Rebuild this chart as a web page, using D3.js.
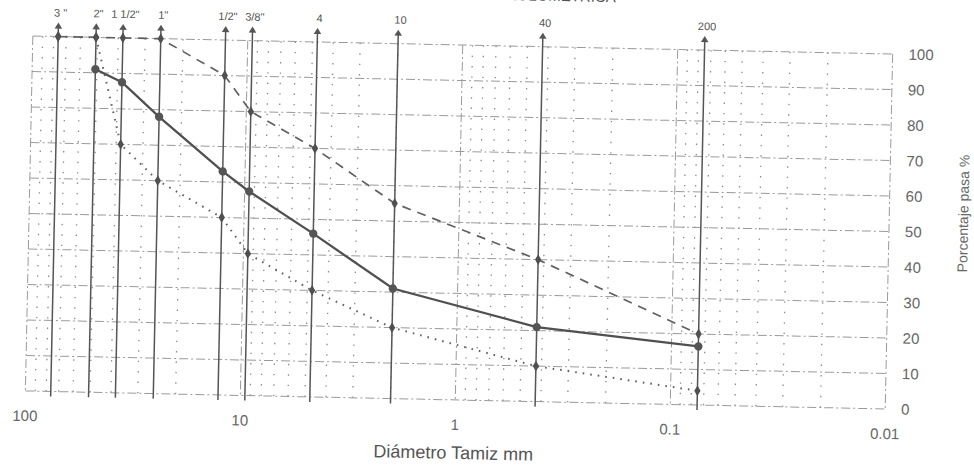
<!DOCTYPE html>
<html>
<head>
<meta charset="utf-8">
<script src="https://cdn.jsdelivr.net/npm/d3@7"></script>
<style>
  body { margin: 0; background: #fff; }
  svg { display: block; }
  text { font-family: "Liberation Sans", Arial, sans-serif; }
</style>
</head>
<body>
<svg id="chart" width="974" height="466"></svg>
<script>
// Sieve openings (mm) and their names
const sieveNames = ['3 "', '2"', '1 1/2"', '1"', '1/2"', '3/8"', '4', '10', '40', '200'];
const sieveSizes = [76.2, 50.8, 38.1, 25.4, 12.7, 9.525, 4.75, 2.0, 0.425, 0.075];

// Sample gradation (% passing)
const sampleSizes = [50.8, 38.1, 25.4, 12.7, 9.525, 4.75, 2.0, 0.425, 0.075];
const samplePassing = [91, 87.5, 78, 63, 57.5, 46, 31, 21, 16.5];

// Upper specification limit (% passing)
const upperSizes = [76.2, 50.8, 38.1, 25.4, 12.7, 9.525, 4.75, 2.0, 0.425, 0.075];
const upperPassing = [100, 100, 100, 100, 90, 80, 70, 55, 40, 20];

// Lower specification limit (% passing)
const lowerSizes = [76.2, 50.8, 38.1, 25.4, 12.7, 9.525, 4.75, 2.0, 0.425, 0.075];
const lowerPassing = [100, 100, 70, 60, 50, 40, 30, 20, 10, 4];

// Axis ticks
const xTicks = [100, 10, 1, 0.1, 0.01];
const xTickLabels = ['100', '10', '1', '0.1', '0.01'];
const yTicks = [0, 10, 20, 30, 40, 50, 60, 70, 80, 90, 100];

const chartTitle = 'CURVA GRANULOMETRICA';
const xTitle = 'Diámetro Tamiz mm';
const yTitle = 'Porcentaje pasa %';

// ---- layout ----
const pL = 29, pR = 889, pT = 45, pB = 400;
const svg = d3.select('#chart');
const g = svg.append('g').attr('transform', 'rotate(1.2,460,223)');

const x = d3.scaleLog().domain([100, 0.01]).range([pL, pR]);
const y = d3.scaleLinear().domain([0, 100]).range([pB, pT]);

const gridColor = '#9a9a9a';
const majorDash = '9,3,2,3';

// minor vertical grid (2..9 in every decade)
const minorTicks = x.ticks().filter(v => Math.abs(Math.log10(v) - Math.round(Math.log10(v))) > 1e-6);
g.append('g').selectAll('line').data(minorTicks).join('line')
  .attr('x1', d => x(d)).attr('x2', d => x(d))
  .attr('y1', pT).attr('y2', pB)
  .attr('stroke', '#8a8a8a').attr('stroke-width', 1.3)
  .attr('stroke-dasharray', '1.4,9');

// major vertical grid (decades, also plot frame)
g.append('g').selectAll('line').data(xTicks).join('line')
  .attr('x1', d => x(d)).attr('x2', d => x(d))
  .attr('y1', pT).attr('y2', pB)
  .attr('stroke', gridColor).attr('stroke-width', 1)
  .attr('stroke-dasharray', majorDash);

// horizontal grid every 10 %
g.append('g').selectAll('line').data(yTicks).join('line')
  .attr('x1', pL).attr('x2', pR)
  .attr('y1', d => y(d)).attr('y2', d => y(d))
  .attr('stroke', gridColor).attr('stroke-width', 1)
  .attr('stroke-dasharray', majorDash);

// sieve lines with arrow heads and names
const sieveColor = '#555';
const sg = g.append('g');
sg.selectAll('line').data(sieveSizes).join('line')
  .attr('x1', d => x(d)).attr('x2', d => x(d))
  .attr('y1', pB + 5).attr('y2', pT - 9)
  .attr('stroke', sieveColor).attr('stroke-width', 1.5);
sg.selectAll('path').data(sieveSizes).join('path')
  .attr('d', d => `M${x(d)},${pT - 14} L${x(d) - 3.8},${pT - 8} L${x(d) + 3.8},${pT - 8} Z`)
  .attr('fill', sieveColor);
sg.selectAll('text').data(sieveNames).join('text')
  .attr('x', (d, i) => x(sieveSizes[i]) + 2)
  .attr('y', pT - 20)
  .attr('text-anchor', 'middle')
  .attr('font-size', 11).attr('fill', '#555')
  .text(d => d);

// curves
const line = d3.line().x(d => x(d[0])).y(d => y(d[1]));
const upper = upperSizes.map((s, i) => [s, upperPassing[i]]);
const lower = lowerSizes.map((s, i) => [s, lowerPassing[i]]);
const sample = sampleSizes.map((s, i) => [s, samplePassing[i]]);

g.append('path').datum(upper).attr('d', line)
  .attr('fill', 'none').attr('stroke', '#606060').attr('stroke-width', 1.7)
  .attr('stroke-dasharray', '9,7');
g.append('path').datum(lower).attr('d', line)
  .attr('fill', 'none').attr('stroke', '#606060').attr('stroke-width', 2)
  .attr('stroke-dasharray', '1.6,6');
g.append('path').datum(sample).attr('d', line)
  .attr('fill', 'none').attr('stroke', '#505050').attr('stroke-width', 2.3);

const diamond = d3.symbol().type(d3.symbolDiamond).size(34);
g.append('g').selectAll('path').data(upper.concat(lower)).join('path')
  .attr('transform', d => `translate(${x(d[0])},${y(d[1])})`)
  .attr('d', diamond).attr('fill', '#505050');
g.append('g').selectAll('circle').data(sample).join('circle')
  .attr('cx', d => x(d[0])).attr('cy', d => y(d[1])).attr('r', 4.2)
  .attr('fill', '#555');

// x tick labels
g.append('g').selectAll('text').data(xTicks).join('text')
  .attr('x', d => x(d)).attr('y', pB + 30)
  .attr('text-anchor', 'middle').attr('font-size', 15).attr('fill', '#666')
  .text((d, i) => xTickLabels[i]);

// y tick labels on the right side
g.append('g').selectAll('text').data(yTicks).join('text')
  .attr('x', pR + 16).attr('y', d => y(d) + 5.3)
  .attr('font-size', 15).attr('fill', '#666')
  .text(d => d);

// titles
g.append('text').attr('x', 611).attr('y', -1)
  .attr('text-anchor', 'end').attr('font-size', 15).attr('fill', '#555')
  .text(chartTitle);
g.append('text').attr('x', 458).attr('y', 459)
  .attr('text-anchor', 'middle').attr('font-size', 18).attr('fill', '#555')
  .text(xTitle);
g.append('text')
  .attr('transform', 'translate(968,203) rotate(-90)')
  .attr('text-anchor', 'middle').attr('font-size', 14).attr('fill', '#666')
  .text(yTitle);
</script>
</body>
</html>
